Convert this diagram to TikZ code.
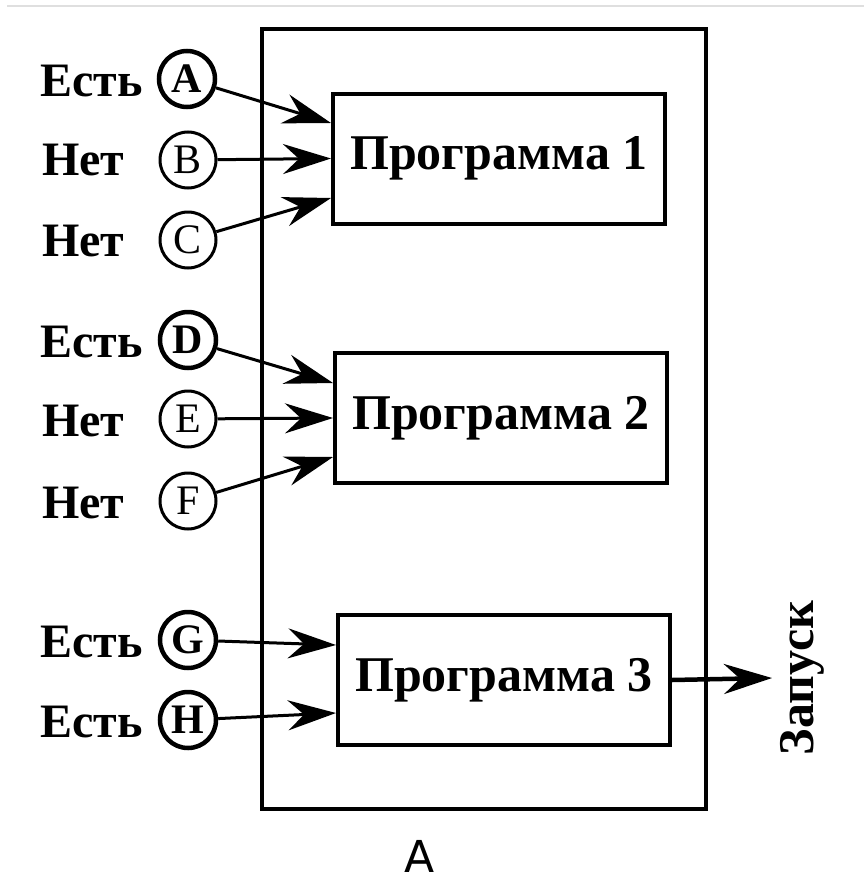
\documentclass[tikz,border=0pt]{standalone}
\usepackage{fontspec}
\setmainfont{Liberation Serif}
\newfontfamily\labelsans{DejaVu Sans}
\usetikzlibrary{arrows.meta,calc}
\tikzset{
  prog/.style={draw, line width=4pt, minimum width=332pt, minimum height=130pt, inner sep=0pt,
    font=\fontsize{50}{60}\selectfont\bfseries},
  sig/.style={circle, draw, line width=3pt, minimum size=56pt, inner sep=0pt,
    font=\fontsize{42}{48}\selectfont},
  sigon/.style={sig, line width=4.5pt, font=\fontsize{42}{48}\selectfont\bfseries},
  lab/.style={anchor=west, inner sep=0pt, font=\fontsize{48}{56}\selectfont\bfseries},
  conn/.style={line width=3pt, -{Stealth[length=48pt,width=30pt,inset=16pt]}},
}
\begin{document}
\begin{tikzpicture}[x=1pt,y=-1pt]
\useasboundingbox (0,0) rectangle (864,883);
\draw[line width=2pt, gray!25] (7,6) -- (864,6);
% outer frame
\draw[line width=3.5pt] (262,29) rectangle (706,809);
% program boxes
\node[prog] (p1) at (499,158.5) {Программа 1};
\node[prog] (p2) at (501,418) {Программа 2};
\node[prog] (p3) at (504,680) {Программа 3};
% signal circles
\node[sigon] (A) at (187,79) {A};
\node[sig]   (B) at (188,160) {B};
\node[sig]   (C) at (188,240) {C};
\node[sigon] (D) at (188,340) {D};
\node[sig]   (E) at (188,419) {E};
\node[sig]   (F) at (188,501) {F};
\node[sigon] (G) at (188,640) {G};
\node[sigon] (H) at (188,720) {H};
% labels
\node[lab] (lA) at (40,81) {Есть};
\node[lab] (lB) at (42,160) {Нет};
\node[lab] (lC) at (42,241) {Нет};
\node[lab] (lD) at (40,342) {Есть};
\node[lab] (lE) at (42,421) {Нет};
\node[lab] (lF) at (42,503) {Нет};
\node[lab] (lG) at (40,642) {Есть};
\node[lab] (lH) at (40,722) {Есть};
% arrow ends
\coordinate (eA) at ([yshift=35.5pt]p1.west);
\coordinate (eB) at (p1.west);
\coordinate (eC) at ([yshift=-39.5pt]p1.west);
\coordinate (eD) at ([yshift=35pt]p2.west);
\coordinate (eE) at (p2.west);
\coordinate (eF) at ([yshift=-39pt]p2.west);
\coordinate (eG) at ([yshift=35pt]p3.west);
\coordinate (eH) at ([yshift=-33pt]p3.west);
\draw[conn] (A) -- (eA);
\draw[conn] (B) -- (eB);
\draw[conn] (C) -- (eC);
\draw[conn] (D) -- (eD);
\draw[conn] (E) -- (eE);
\draw[conn] (F) -- (eF);
\draw[conn] (G) -- (eG);
\draw[conn] (H) -- (eH);
% output
\coordinate (out) at (772,678);
\draw[conn, line width=4.5pt] (p3.east) -- (out);
\node[rotate=90, inner sep=0pt, font=\fontsize{50}{60}\selectfont\bfseries] (run) at (802,678) {Запуск};
\node[inner sep=0pt, font=\labelsans\fontsize{44}{52}\selectfont] (cap) at (420,856) {A};
\end{tikzpicture}
\end{document}
